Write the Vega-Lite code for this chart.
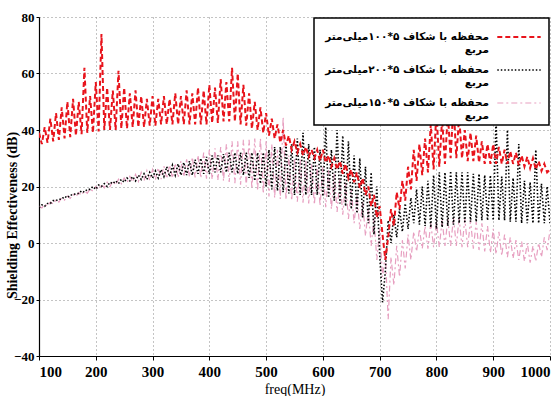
{
"$schema": "https://vega.github.io/schema/vega-lite/v6.json",
"width": 511, "height": 339,
"autosize": {"type": "none"},
"padding": {"left": 39, "top": 17, "right": 10, "bottom": 40},
"background": "white",
"config": {
  "view": {"stroke": null},
  "legend": {
    "orient": "top-right", "offset": 1, "fillColor": "white", "strokeColor": "black", "strokeWidth": 1.5,
    "padding": 4, "symbolType": "M-1.55,0H1.55", "symbolSize": 784, "symbolOpacity": 1,
    "symbolOffset": 186,
    "labelFont": "DejaVu Sans", "labelFontSize": 10.5, "labelFontWeight": "bold", "labelColor": "black",
    "labelAlign": "right", "labelOffset": -45, "labelLimit": 300, "labelBaseline": "middle", "rowPadding": -3
  }
},
"data": {"values": [
{"f":100,"a":39,"b":12.5,"c":13},{"f":105,"a":35,"b":13.5,"c":12.4},{"f":110,"a":41,"b":13,"c":13.8},{"f":115,"a":35.5,"b":14,"c":13},
{"f":120,"a":44,"b":14,"c":14.5},{"f":125,"a":36,"b":15,"c":13.8},{"f":130,"a":46,"b":15,"c":15.3},{"f":135,"a":36.5,"b":15.5,"c":14.5},
{"f":140,"a":48,"b":15.5,"c":16},{"f":145,"a":37,"b":16.5,"c":15.2},{"f":150,"a":50,"b":16,"c":16.6},{"f":155,"a":37.5,"b":17,"c":15.8},
{"f":160,"a":51,"b":17,"c":17.2},{"f":165,"a":38,"b":17.5,"c":16.4},{"f":170,"a":50,"b":17.5,"c":17.8},{"f":175,"a":38.5,"b":18.5,"c":17},
{"f":180,"a":62,"b":18,"c":18.5},{"f":185,"a":39,"b":19,"c":17.6},{"f":190,"a":52,"b":19,"c":19.2},{"f":195,"a":39,"b":20,"c":18.3},
{"f":200,"a":57,"b":19,"c":20},{"f":205,"a":39.5,"b":20.5,"c":19},{"f":210,"a":74,"b":20,"c":20.8},{"f":215,"a":40,"b":21,"c":19.5},
{"f":220,"a":55,"b":20,"c":21.5},{"f":225,"a":40,"b":21.5,"c":20},{"f":230,"a":54,"b":21,"c":22},{"f":235,"a":40,"b":22,"c":20.5},
{"f":240,"a":61,"b":21,"c":22.6},{"f":245,"a":40.5,"b":22.5,"c":21},{"f":250,"a":55,"b":21.5,"c":23},{"f":255,"a":40.5,"b":23,"c":21.3},
{"f":260,"a":53,"b":22,"c":23.6},{"f":265,"a":41,"b":23.5,"c":21.6},{"f":270,"a":54,"b":22,"c":24.3},{"f":275,"a":41,"b":24,"c":21.8},
{"f":280,"a":52,"b":22.5,"c":25},{"f":285,"a":41,"b":24.5,"c":22},{"f":290,"a":51,"b":22.5,"c":25.6},{"f":295,"a":41.5,"b":25,"c":22.2},
{"f":300,"a":52,"b":23,"c":26},{"f":305,"a":41.5,"b":25.5,"c":22.4},{"f":310,"a":51,"b":23,"c":26.6},{"f":315,"a":42,"b":26,"c":22.6},
{"f":320,"a":52,"b":23.5,"c":27.2},{"f":325,"a":42,"b":27,"c":22.8},{"f":330,"a":51,"b":23.5,"c":27.6},{"f":335,"a":42,"b":27.5,"c":23},
{"f":340,"a":53,"b":24,"c":28.2},{"f":345,"a":42,"b":28,"c":23.2},{"f":350,"a":52,"b":24,"c":29},{"f":355,"a":42,"b":28.5,"c":23.4},
{"f":360,"a":54,"b":24,"c":29.6},{"f":365,"a":42,"b":29,"c":23.4},{"f":370,"a":53,"b":24,"c":30.4},{"f":375,"a":42,"b":29.5,"c":23.2},
{"f":380,"a":55,"b":24.5,"c":31},{"f":385,"a":42,"b":30,"c":23},{"f":390,"a":54,"b":24.5,"c":32},{"f":395,"a":42,"b":30.5,"c":22.8},
{"f":400,"a":56,"b":24.5,"c":33},{"f":405,"a":42.5,"b":31,"c":22.5},{"f":410,"a":55,"b":25,"c":33.5},{"f":415,"a":42.5,"b":31,"c":22.2},
{"f":420,"a":58,"b":25,"c":34},{"f":425,"a":43,"b":31.5,"c":22},{"f":430,"a":57,"b":25,"c":35},{"f":435,"a":43,"b":32,"c":21.6},
{"f":440,"a":62,"b":25,"c":36},{"f":445,"a":43,"b":32,"c":21.2},{"f":450,"a":60,"b":24.5,"c":36},{"f":455,"a":42,"b":32,"c":20.6},
{"f":460,"a":56,"b":24,"c":36.5},{"f":465,"a":41.5,"b":32,"c":20},{"f":470,"a":53,"b":23,"c":36.5},{"f":475,"a":40.5,"b":32,"c":19.2},
{"f":480,"a":50,"b":22,"c":37},{"f":485,"a":40,"b":32,"c":18.5},{"f":490,"a":48,"b":21,"c":37},{"f":495,"a":39,"b":32,"c":17.5},
{"f":500,"a":46,"b":20,"c":36},{"f":505,"a":38,"b":33,"c":16.5},{"f":510,"a":44,"b":19,"c":35},{"f":515,"a":37,"b":34,"c":16},
{"f":520,"a":42,"b":18.5,"c":33},{"f":525,"a":35.5,"b":34,"c":15.6},{"f":530,"a":40,"b":18,"c":44.5},{"f":535,"a":34.5,"b":35,"c":15.3},
{"f":540,"a":38,"b":17.5,"c":31},{"f":545,"a":33,"b":35,"c":15},{"f":550,"a":36,"b":17,"c":30},{"f":555,"a":32,"b":37,"c":14.6},
{"f":560,"a":35,"b":17,"c":29.5},{"f":565,"a":31,"b":39,"c":14.3},{"f":570,"a":34,"b":17,"c":29},{"f":575,"a":30.5,"b":35,"c":14},
{"f":580,"a":33,"b":17,"c":28},{"f":585,"a":30,"b":34,"c":13.6},{"f":590,"a":33,"b":17,"c":27.5},{"f":595,"a":29,"b":33,"c":13.2},
{"f":600,"a":33,"b":16.5,"c":27},{"f":605,"a":28.5,"b":41,"c":12.7},{"f":610,"a":31,"b":16,"c":26},{"f":615,"a":27,"b":33,"c":12},
{"f":620,"a":30,"b":15,"c":24.5},{"f":625,"a":26,"b":40,"c":11},{"f":630,"a":29,"b":14,"c":23},{"f":635,"a":24.5,"b":38,"c":10},
{"f":640,"a":28,"b":13,"c":21.5},{"f":645,"a":23,"b":36,"c":8.5},{"f":650,"a":26,"b":12,"c":19},{"f":655,"a":21.5,"b":31,"c":7},
{"f":660,"a":25,"b":10.5,"c":17},{"f":665,"a":19.5,"b":30,"c":5},{"f":670,"a":23,"b":9,"c":14.5},{"f":675,"a":17,"b":27,"c":2.5},
{"f":680,"a":20,"b":7,"c":12},{"f":685,"a":13,"b":25,"c":-1},{"f":690,"a":17,"b":3,"c":9},{"f":695,"a":9,"b":20,"c":-6},
{"f":700,"a":13,"b":-4,"c":5},{"f":705,"a":3,"b":-21,"c":-12},{"f":710,"a":-6,"b":-10,"c":-4},{"f":715,"a":2,"b":8,"c":-27},
{"f":720,"a":12,"b":0,"c":-5},{"f":725,"a":6,"b":10,"c":-15},{"f":730,"a":18,"b":2,"c":-1},{"f":735,"a":12,"b":12,"c":-12},
{"f":740,"a":22,"b":4,"c":1},{"f":745,"a":15,"b":14,"c":-9},{"f":750,"a":27,"b":5,"c":3},{"f":755,"a":19,"b":16,"c":-6},
{"f":760,"a":33,"b":7,"c":4},{"f":765,"a":22,"b":19,"c":-3},{"f":770,"a":35,"b":6.5,"c":5},{"f":775,"a":24,"b":20,"c":-2},
{"f":780,"a":37,"b":6,"c":6},{"f":785,"a":25,"b":22,"c":-2},{"f":790,"a":42,"b":5.5,"c":7},{"f":795,"a":26,"b":24,"c":-1.5},
{"f":800,"a":47,"b":5,"c":7.5},{"f":805,"a":27,"b":25,"c":-1.5},{"f":810,"a":44,"b":5.5,"c":8},{"f":815,"a":28,"b":25,"c":-1},
{"f":820,"a":46,"b":6,"c":8.5},{"f":825,"a":30,"b":25.5,"c":-1},{"f":830,"a":49.5,"b":6.5,"c":9},{"f":835,"a":30,"b":25,"c":-1},
{"f":840,"a":45,"b":7,"c":9},{"f":845,"a":30,"b":25,"c":-1.5},{"f":850,"a":40,"b":7,"c":8.5},{"f":855,"a":29,"b":25,"c":-1.5},
{"f":860,"a":39,"b":7.5,"c":8},{"f":865,"a":29,"b":24.5,"c":-2},{"f":870,"a":38,"b":7.5,"c":7.5},{"f":875,"a":28.5,"b":24.5,"c":-2.5},
{"f":880,"a":36,"b":8,"c":7},{"f":885,"a":28,"b":24,"c":-3},{"f":890,"a":35,"b":8,"c":6},{"f":895,"a":28,"b":24,"c":-3.5},
{"f":900,"a":35,"b":8,"c":5},{"f":905,"a":28,"b":44,"c":-4},{"f":910,"a":34,"b":8,"c":4},{"f":915,"a":28,"b":23.5,"c":-4.5},
{"f":920,"a":33,"b":8,"c":3},{"f":925,"a":28,"b":40,"c":-5},{"f":930,"a":32.5,"b":7.5,"c":2},{"f":935,"a":28,"b":23,"c":-5.5},
{"f":940,"a":32,"b":7.5,"c":1},{"f":945,"a":27.5,"b":35,"c":-6},{"f":950,"a":31,"b":7,"c":0.5},{"f":955,"a":27,"b":22,"c":-6.5},
{"f":960,"a":30.5,"b":7,"c":0},{"f":965,"a":26.5,"b":21.5,"c":-7},{"f":970,"a":30,"b":7,"c":-1},{"f":975,"a":26,"b":33,"c":-6.5},
{"f":980,"a":29,"b":7,"c":0},{"f":985,"a":25.5,"b":21,"c":-5},{"f":990,"a":28,"b":7,"c":2},{"f":995,"a":25,"b":20,"c":-2.5},
{"f":1000,"a":26,"b":7,"c":4.5}
]},
"transform": [{"fold": ["a", "b", "c"], "as": ["s", "v"]}],
"encoding": {
  "x": {"field": "f", "type": "quantitative",
    "scale": {"domain": [100, 1000], "nice": false, "zero": false},
    "axis": {"values": [100,200,300,400,500,600,700,800,900,1000], "format": "d",
      "labelFont": "Liberation Serif", "labelFontWeight": "bold", "labelFontSize": 15, "labelColor": "black",
      "labelPadding": 4, "tickSize": 4, "tickColor": "black", "domainColor": "black", "domainWidth": 1.2,
      "grid": true, "gridDash": [1, 3], "gridColor": "#888", "gridWidth": 1,
      "title": "freq(MHz)", "titleFont": "Liberation Serif", "titleFontWeight": "normal", "titleFontSize": 14,
      "titleColor": "black", "titlePadding": 3}},
  "y": {"field": "v", "type": "quantitative",
    "scale": {"domain": [-40, 80], "nice": false},
    "axis": {"values": [-40,-20,0,20,40,60,80],
      "labelFont": "Liberation Serif", "labelFontWeight": "bold", "labelFontSize": 13, "labelColor": "black",
      "labelPadding": 2, "tickSize": 3, "tickColor": "black", "domainColor": "black", "domainWidth": 1.2,
      "grid": true, "gridDash": [1, 3], "gridColor": "#888", "gridWidth": 1,
      "title": "Shielding Effectiveness (dB)", "titleFont": "Liberation Serif", "titleFontWeight": "bold",
      "titleFontSize": 14, "titleColor": "black", "titleX": -27, "titleY": 198, "titleBaseline": "middle", "titleAngle": -90}},
  "color": {"field": "s", "type": "nominal",
    "scale": {"domain": ["a", "b", "c"], "range": ["#e8141c", "#000000", "#e79fc0"]},
    "legend": {"title": null,
      "labelExpr": "datum.label == 'a' ? ['محفظه با شکاف ۵*۱۰۰میلی\u200cمتر', 'مربع'] : datum.label == 'b' ? ['محفظه با شکاف ۵*۲۰۰میلی\u200cمتر', 'مربع'] : ['محفظه با شکاف ۵*۱۵۰میلی\u200cمتر', 'مربع']"}},
  "strokeDash": {"field": "s", "type": "nominal",
    "scale": {"domain": ["a", "b", "c"], "range": [[5, 3], [1.5, 2], [6, 3, 2, 3]]},
    "legend": {"title": null,
      "labelExpr": "datum.label == 'a' ? ['محفظه با شکاف ۵*۱۰۰میلی\u200cمتر', 'مربع'] : datum.label == 'b' ? ['محفظه با شکاف ۵*۲۰۰میلی\u200cمتر', 'مربع'] : ['محفظه با شکاف ۵*۱۵۰میلی\u200cمتر', 'مربع']"}},
  "strokeWidth": {"field": "s", "type": "nominal",
    "scale": {"domain": ["a", "b", "c"], "range": [2, 1.2, 1.8]},
    "legend": {"title": null,
      "labelExpr": "datum.label == 'a' ? ['محفظه با شکاف ۵*۱۰۰میلی\u200cمتر', 'مربع'] : datum.label == 'b' ? ['محفظه با شکاف ۵*۲۰۰میلی\u200cمتر', 'مربع'] : ['محفظه با شکاف ۵*۱۵۰میلی\u200cمتر', 'مربع']"}}
},
"layer": [
  {"transform": [{"filter": "datum.s == 'c'"}], "mark": {"type": "line", "clip": true}},
  {"transform": [{"filter": "datum.s == 'b'"}], "mark": {"type": "line", "clip": true}},
  {"transform": [{"filter": "datum.s == 'a'"}], "mark": {"type": "line", "clip": true}}
]
}
